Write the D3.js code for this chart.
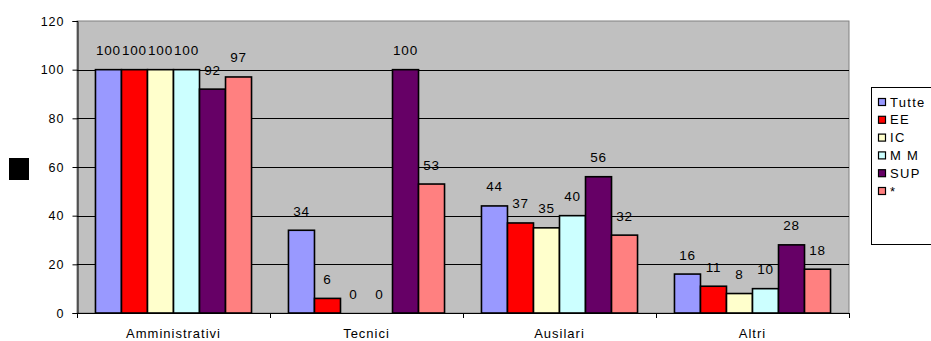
<!DOCTYPE html>
<html><head><meta charset="utf-8">
<script src="https://cdn.jsdelivr.net/npm/d3@7"></script>
<style>body{margin:0;background:#fff}svg{display:block}text{font-family:"Liberation Sans",Arial,sans-serif}</style>
</head><body><svg id="c" width="931" height="341"></svg>
<script>
const categories = ["Amministrativi","Tecnici","Ausilari","Altri"];
const seriesNames = ["Tutte","EE","IC","M M","SUP","*"];
const seriesColors = ["#9999FF","#FF0000","#FFFFCC","#CCFFFF","#660066","#FF8080"];
const values = [
  [100,34,44,16],   // Tutte
  [100,6,37,11],    // EE
  [100,0,35,8],     // IC
  [100,0,40,10],    // MM
  [92,100,56,28],   // SUP
  [97,53,32,18]     // *
];
const yTicks = [0,20,40,60,80,100,120];

const svg = d3.select("#c");
const L=77, R=849, T=21, B=313;
const x0 = d3.scaleBand().domain(categories).range([L,R]).paddingInner(0).paddingOuter(0);
const bw = x0.bandwidth()/(6+1.42);
const x1 = d3.scaleBand().domain(d3.range(6)).range([bw*0.71, x0.bandwidth()-bw*0.71]).padding(0);
const y = d3.scaleLinear().domain([0,120]).range([B,T]);

svg.append("rect").attr("x",L).attr("y",T).attr("width",R-L).attr("height",B-T).attr("fill","#C0C0C0").attr("stroke","#808080").attr("stroke-width",1);
svg.append("g").selectAll("line").data(yTicks.filter(d=>d>0&&d<120)).join("line")
  .attr("x1",L).attr("x2",R).attr("y1",d=>Math.round(y(d))+0.5).attr("y2",d=>Math.round(y(d))+0.5).attr("stroke","#000").attr("stroke-width",1);

const yAxis = svg.append("g").attr("transform",`translate(${L+0.5},0)`)
  .call(d3.axisLeft(y).tickValues(yTicks).tickSize(5).tickPadding(8));
yAxis.select(".domain").attr("stroke","#000");
yAxis.selectAll("text").attr("font-size",12.5).attr("fill","#000").attr("letter-spacing","1px");

const xAxis = svg.append("g").attr("transform",`translate(0,${B+0.5})`)
  .call(d3.axisBottom(x0).tickSize(0));
xAxis.select(".domain").attr("stroke","#000").attr("d",`M${L},0H${R}`);
xAxis.selectAll("text").attr("font-size",13).attr("fill","#000").attr("letter-spacing","1px")
  .attr("y",24.5).attr("dy",0);
svg.append("g").selectAll("line").data(d3.range(5)).join("line")
  .attr("x1",i=>Math.round(L+i*x0.bandwidth())+0.5).attr("x2",i=>Math.round(L+i*x0.bandwidth())+0.5)
  .attr("y1",B).attr("y2",B+5).attr("stroke","#000");

const groups = svg.append("g").selectAll("g").data(categories).join("g")
  .attr("transform",d=>`translate(${x0(d)},0)`);
groups.each(function(cat,ci){
  const g=d3.select(this);
  values.forEach((vals,si)=>{
    const v=vals[ci];
    if(v>0) g.append("rect").attr("x",x1(si)).attr("y",y(v)).attr("width",x1.bandwidth()).attr("height",B-y(v))
      .attr("fill",seriesColors[si]).attr("stroke","#000").attr("stroke-width",1.6);
    g.append("text").attr("x",x1(si)+x1.bandwidth()/2).attr("y",y(v)-14.5).attr("text-anchor","middle")
      .attr("font-size",13.5).attr("letter-spacing","0.8px").attr("fill","#000").text(v);
  });
});

// y-axis title (rendered as a missing glyph box)
svg.append("rect").attr("x",9).attr("y",158).attr("width",20).attr("height",22).attr("fill","#000");

// legend
const lg = svg.append("g");
lg.append("rect").attr("x",871.5).attr("y",87.5).attr("width",70).attr("height",157).attr("fill","#fff").attr("stroke","#000");
seriesNames.forEach((n,i)=>{
  const cy=102+i*17.8;
  lg.append("rect").attr("x",878.5).attr("y",cy-3.5).attr("width",7).attr("height",7).attr("fill",seriesColors[i]).attr("stroke","#000").attr("stroke-width",1.2);
  lg.append("text").attr("x",890).attr("y",cy+4.5).attr("font-size",13).attr("letter-spacing","1.3px").attr("fill","#000").text(n);
});
</script></body></html>
